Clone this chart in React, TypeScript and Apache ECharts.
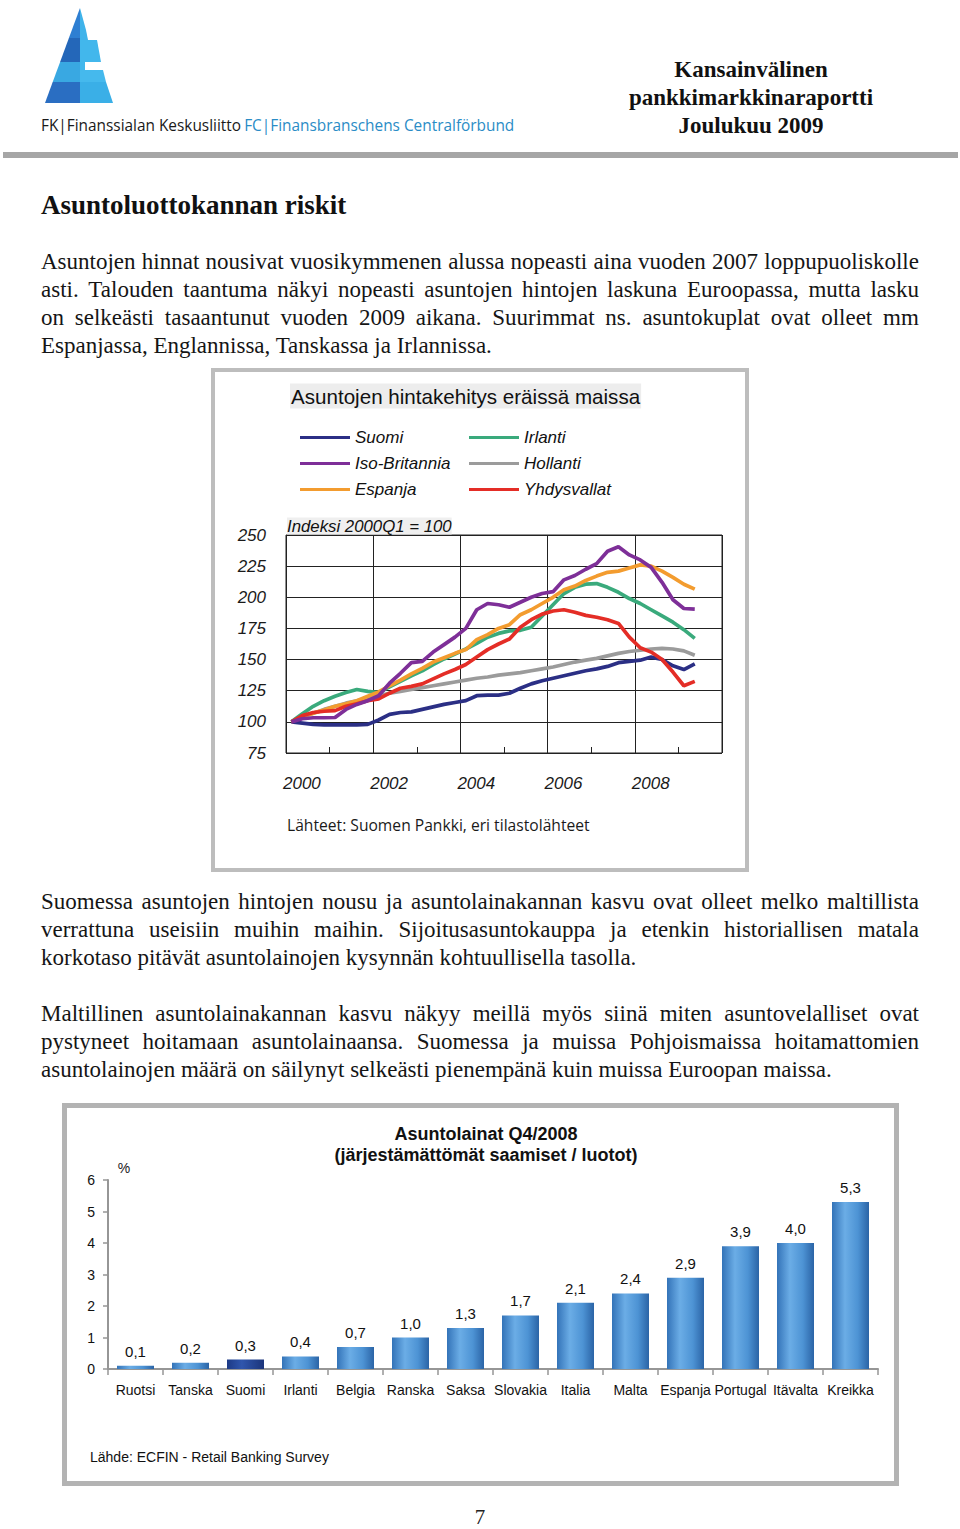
import React, { useEffect, useRef } from "react";
import * as echarts from "echarts";

// ---------- line chart data (index 2000Q1 = 100) ----------
const quarters: string[] = [];
for (let y = 2000; y <= 2009; y++) for (let q = 1; q <= 4; q++) quarters.push(`${y}Q${q}`);

const seriesColors: Record<string, string> = {
  Suomi: "#2b2f85",
  Irlanti: "#3aaa7c",
  "Iso-Britannia": "#7e2f98",
  Hollanti: "#9b9b9b",
  Espanja: "#f39c2f",
  Yhdysvallat: "#e42d26",
};
const suomi = [100, 99, 98, 97.5, 97.5, 97.5, 97.5, 98, 101.5, 106, 107.5, 108, 110, 112, 114, 115.5, 117, 121, 121.5, 121.5, 123, 127, 130.5, 133, 135, 137, 139, 141, 142.5, 144.5, 147.5, 148.5, 149.5, 152, 150, 145, 142, 146.5];
const isoBritannia = [100, 102.5, 103.3, 103.3, 103.5, 110, 114, 117, 121, 131, 139, 147.5, 148.5, 156, 162, 168, 175, 190, 195, 194, 192, 196, 200, 203, 204.5, 214, 217.5, 222.5, 227, 237, 240.5, 234, 230, 224, 212, 198, 191, 190.5];
const espanja = [100, 104, 107, 109.5, 112.5, 114.5, 117, 120.5, 124, 129, 133.5, 138.5, 143, 148, 151.5, 155, 158, 166, 170, 175, 178, 186, 190, 195, 200, 206, 209, 213.5, 217, 220, 221, 223.5, 226, 225, 221, 216, 210.5, 206.5];
const irlanti = [100, 106.5, 112.5, 117, 120.5, 123.5, 126, 124.5, 123.5, 128, 132.5, 137, 141, 146, 150.5, 154.5, 158.5, 163, 168, 171, 173, 173.5, 176, 185, 194, 203, 208, 210.5, 211, 208, 204, 199, 195, 190, 185, 180, 174, 167];
const hollanti = [100, 104, 107, 110, 112.5, 115, 117, 119, 121, 123, 124.5, 126, 127.5, 129, 130.5, 132, 133.5, 135, 136, 137.5, 138.5, 139.5, 141, 142.5, 144, 146, 148, 149.5, 151, 153, 155, 156.5, 157.5, 158.5, 159, 158.5, 157, 153.5];
const yhdysvallat = [100, 105, 107.5, 108.5, 109, 112.5, 114.5, 117, 118.5, 123, 127, 128.5, 130.5, 134.5, 138.5, 142, 146, 152, 158, 162.5, 166.5, 176, 182, 186.5, 189, 190, 188, 185.5, 184, 182, 179, 168, 159.5, 156, 150, 140, 129, 132.5];
const drawOrder: [string, number[]][] = [
  ["Hollanti", hollanti],
  ["Suomi", suomi],
  ["Irlanti", irlanti],
  ["Espanja", espanja],
  ["Yhdysvallat", yhdysvallat],
  ["Iso-Britannia", isoBritannia],
];
const yearTicks = [2000, 2002, 2004, 2006, 2008];

// ---------- bar chart data ----------
const countries = ["Ruotsi", "Tanska", "Suomi", "Irlanti", "Belgia", "Ranska", "Saksa", "Slovakia", "Italia", "Malta", "Espanja", "Portugal", "Itävalta", "Kreikka"];
const loanValues = [0.1, 0.2, 0.3, 0.4, 0.7, 1.0, 1.3, 1.7, 2.1, 2.4, 2.9, 3.9, 4.0, 5.3];
const highlighted = "Suomi";

// ---------- page text ----------
const para1 = [
  "Asuntojen hinnat nousivat vuosikymmenen alussa nopeasti aina vuoden 2007 loppupuoliskolle",
  "asti. Talouden taantuma näkyi nopeasti asuntojen hintojen laskuna Euroopassa, mutta lasku",
  "on selkeästi tasaantunut vuoden 2009 aikana. Suurimmat ns. asuntokuplat ovat olleet mm",
  "Espanjassa, Englannissa, Tanskassa ja Irlannissa.",
];
const para2 = [
  "Suomessa asuntojen hintojen nousu ja asuntolainakannan kasvu ovat olleet melko maltillista",
  "verrattuna useisiin muihin maihin. Sijoitusasuntokauppa ja etenkin historiallisen matala",
  "korkotaso pitävät asuntolainojen kysynnän kohtuullisella tasolla.",
];
const para3 = [
  "Maltillinen asuntolainakannan kasvu näkyy meillä myös siinä miten asuntovelalliset ovat",
  "pystyneet hoitamaan asuntolainaansa. Suomessa ja muissa Pohjoismaissa hoitamattomien",
  "asuntolainojen määrä on säilynyt selkeästi pienempänä kuin muissa Euroopan maissa.",
];

const SANS = "'Liberation Sans', Arial, sans-serif";
const SERIF = "'Liberation Serif', 'Times New Roman', serif";

function Paragraph({ lines, top }: { lines: string[]; top: number }) {
  return (
    <div style={{ position: "absolute", left: 41, top, width: 878, fontFamily: SERIF, fontSize: 23, color: "#151515" }}>
      {lines.map((line, i) => {
        const last = i === lines.length - 1;
        if (last) {
          return (
            <div key={i} style={{ height: 28, lineHeight: "28px", whiteSpace: "nowrap" }}>
              {line}
            </div>
          );
        }
        const words = line.split(" ");
        return (
          <div key={i} style={{ height: 28, lineHeight: "28px", display: "flex", justifyContent: "space-between", whiteSpace: "nowrap" }}>
            {words.map((w, j) => (
              <span key={j}>{j < words.length - 1 ? w + " " : w}</span>
            ))}
          </div>
        );
      })}
    </div>
  );
}

export default function App() {
  const ref = useRef<HTMLDivElement>(null);

  useEffect(() => {
    if (!ref.current) return;
    const chart = echarts.init(ref.current, undefined, { renderer: "svg" });

    const barGrad = new echarts.graphic.LinearGradient(0, 0, 1, 0, [
      { offset: 0, color: "#3373b8" },
      { offset: 0.35, color: "#6badE6" },
      { offset: 0.7, color: "#4d93d4" },
      { offset: 1, color: "#2b64a6" },
    ]);
    const darkGrad = new echarts.graphic.LinearGradient(0, 0, 1, 0, [
      { offset: 0, color: "#1d3a86" },
      { offset: 0.4, color: "#2f56ad" },
      { offset: 1, color: "#1b347a" },
    ]);

    const legendCommon = {
      orient: "vertical" as const,
      top: 424,
      itemWidth: 50,
      itemHeight: 3,
      itemGap: 9,
      icon: "rect",
      selectedMode: false,
      textStyle: { fontSize: 17, fontStyle: "italic" as const, color: "#111", fontFamily: SANS, lineHeight: 17 },
    };

    const logoPolys: [number[][], string][] = [
      [[[80, 8], [80, 38], [68.9, 38]], "#2e7fd2"],
      [[[80, 38], [80, 62], [60.1, 62], [68.9, 38]], "#2467b9"],
      [[[80, 62], [80, 82], [52.7, 82], [60.1, 62]], "#39a8e2"],
      [[[80, 82], [80, 103], [45, 103], [52.7, 82]], "#2a6ec2"],
      [[[80, 8], [86, 30], [88, 40], [80, 40]], "#3fb3ea"],
      [[[80, 40], [97, 40], [101, 62], [80, 62]], "#42b7ec"],
      [[[80, 62], [85, 62], [85, 70], [80, 70]], "#42b7ec"],
      [[[80, 70], [103, 70], [106, 82], [80, 82]], "#45b9ed"],
      [[[80, 82], [106, 82], [113, 103], [80, 103]], "#3aafe7"],
    ];

    const graphic: any[] = [
      ...logoPolys.map(([pts, color]) => ({ type: "polygon", shape: { points: pts }, style: { fill: color } })),
      {
        type: "text", x: 41, y: 125, scaleX: 0.905,
        style: {
          text: "{a|FK|Finanssialan Keskusliitto} {b|FC|Finansbranschens Centralförbund}",
          verticalAlign: "middle",
          rich: {
            a: { fontFamily: "'Open Sans', sans-serif", fontSize: 17, fill: "#1a1a1a" },
            b: { fontFamily: "'Open Sans', sans-serif", fontSize: 17, fill: "#2a8cc6" },
          },
        },
      },
      ...["Kansainvälinen", "pankkimarkkinaraportti", "Joulukuu 2009"].map((t, i) => ({
        type: "text", x: 751, y: 69 + i * 28,
        style: { text: t, fontFamily: SERIF, fontWeight: "bold", fontSize: 23, fill: "#111", align: "center", verticalAlign: "middle" },
      })),
      { type: "rect", shape: { x: 3, y: 152, width: 955, height: 6 }, style: { fill: "#a6a6a6" } },
      {
        type: "text", x: 41, y: 205,
        style: { text: "Asuntoluottokannan riskit", fontFamily: SERIF, fontWeight: "bold", fontSize: 27, fill: "#111", verticalAlign: "middle" },
      },
      // line chart frame
      { type: "rect", shape: { x: 213, y: 370, width: 534, height: 500 }, style: { fill: "none", stroke: "#bdbdbd", lineWidth: 4 } },
      {
        type: "text", x: 290, y: 396,
        style: { text: "Asuntojen hintakehitys eräissä maissa", fontFamily: SANS, fontSize: 20.6, fill: "#111", verticalAlign: "middle", backgroundColor: "#ededed", padding: [2, 1] },
      },
      {
        type: "text", x: 287, y: 526,
        style: { text: "Indeksi 2000Q1 = 100", fontFamily: SANS, fontSize: 16.8, fontStyle: "italic", fill: "#111", verticalAlign: "middle", backgroundColor: "#efefef" },
      },
      {
        type: "text", x: 287, y: 825, scaleX: 0.92,
        style: { text: "Lähteet: Suomen Pankki, eri tilastolähteet", fontFamily: "'Open Sans', sans-serif", fontSize: 17, fill: "#1a1a1a", verticalAlign: "middle" },
      },
      // bar chart frame
      { type: "rect", shape: { x: 64.5, y: 1105.5, width: 832, height: 378 }, style: { fill: "none", stroke: "#b3b3b3", lineWidth: 5 } },
      {
        type: "text", x: 486, y: 1134,
        style: { text: "Asuntolainat Q4/2008", fontFamily: SANS, fontWeight: "bold", fontSize: 18, fill: "#111", align: "center", verticalAlign: "middle" },
      },
      {
        type: "text", x: 486, y: 1155,
        style: { text: "(järjestämättömät saamiset / luotot)", fontFamily: SANS, fontWeight: "bold", fontSize: 18, fill: "#111", align: "center", verticalAlign: "middle" },
      },
      { type: "text", x: 124, y: 1168, style: { text: "%", fontFamily: SANS, fontSize: 14, fill: "#222", align: "center", verticalAlign: "middle" } },
      { type: "text", x: 90, y: 1457, style: { text: "Lähde: ECFIN - Retail Banking Survey", fontFamily: SANS, fontSize: 14, fill: "#111", verticalAlign: "middle" } },
      { type: "text", x: 480, y: 1517, style: { text: "7", fontFamily: SERIF, fontSize: 21, fill: "#222", align: "center", verticalAlign: "middle" } },
    ];

    chart.setOption({
      animation: false,
      backgroundColor: "#ffffff",
      textStyle: { fontFamily: SANS },
      graphic,
      legend: [
        { ...legendCommon, left: 295, data: ["Suomi", "Iso-Britannia", "Espanja"] },
        { ...legendCommon, left: 464, data: ["Irlanti", "Hollanti", "Yhdysvallat"] },
      ],
      grid: [
        { left: 286, top: 535, width: 436, height: 218, show: true, borderColor: "#222", borderWidth: 1, backgroundColor: "transparent" },
        { left: 108, top: 1180, width: 770, height: 189 },
      ],
      xAxis: [
        { type: "category", gridIndex: 0, data: quarters, boundaryGap: true, position: "top", show: false },
        {
          type: "value", gridIndex: 0, min: 2000, max: 2010, interval: 2, position: "bottom",
          axisLine: { show: false },
          axisTick: { show: false, inside: true },
          minorTick: { show: true, splitNumber: 2, length: 6, lineStyle: { color: "#222", width: 1 } },
          splitLine: { show: true, lineStyle: { color: "#222", width: 1 } },
          axisLabel: {
            formatter: (v: number) => (yearTicks.includes(v) ? String(v) : ""),
            align: "left", margin: 22, fontSize: 17, fontStyle: "italic", color: "#1a1a1a", fontFamily: SANS,
            padding: [0, 0, 0, -3],
          },
        },
        {
          type: "category", gridIndex: 1, data: countries,
          axisLine: { lineStyle: { color: "#969696", width: 2 } },
          axisTick: { show: true, length: 6, lineStyle: { color: "#969696", width: 1.5 } },
          axisLabel: { interval: 0, margin: 14, fontSize: 14, color: "#111", fontFamily: SANS },
        },
      ],
      yAxis: [
        {
          type: "value", gridIndex: 0, min: 75, max: 250, interval: 25,
          axisLine: { show: false }, axisTick: { show: false },
          splitLine: { lineStyle: { color: "#222", width: 1 } },
          axisLabel: { margin: 20, fontSize: 17, fontStyle: "italic", color: "#1a1a1a", fontFamily: SANS },
        },
        {
          type: "value", gridIndex: 1, min: 0, max: 6, interval: 1,
          axisLine: { show: true, lineStyle: { color: "#969696", width: 2 } },
          axisTick: { show: true, length: 5, lineStyle: { color: "#969696", width: 1.5 } },
          splitLine: { lineStyle: { color: "#8e8e8e", width: 2, shadowColor: "rgba(0,0,0,0.25)", shadowBlur: 2, shadowOffsetY: 1 } },
          axisLabel: { margin: 13, fontSize: 14, color: "#111", fontFamily: SANS },
        },
      ],
      series: [
        ...drawOrder.map(([name, values]) => ({
          name,
          type: "line",
          xAxisIndex: 0,
          yAxisIndex: 0,
          data: values,
          showSymbol: false,
          symbol: "none",
          color: seriesColors[name],
          lineStyle: { width: 3.7, color: seriesColors[name] },
          z: 3,
        })),
        {
          name: "Asuntolainat",
          type: "bar",
          xAxisIndex: 2,
          yAxisIndex: 1,
          barWidth: 37,
          data: loanValues.map((v, i) => (countries[i] === highlighted ? { value: v, itemStyle: { color: darkGrad } } : v)),
          itemStyle: { color: barGrad },
          label: {
            show: true, position: "top", distance: 7, fontSize: 15, color: "#111", fontFamily: SANS,
            formatter: (p: any) => Number(p.value).toFixed(1).replace(".", ","),
          },
        },
      ],
    });

    return () => chart.dispose();
  }, []);

  return (
    <div style={{ position: "absolute", left: 0, top: 0, width: 960, height: 1529, background: "#fff", overflow: "hidden" }}>
      <div ref={ref} style={{ position: "absolute", left: 0, top: 0, width: 960, height: 1529 }} />
      <Paragraph lines={para1} top={248} />
      <Paragraph lines={para2} top={888} />
      <Paragraph lines={para3} top={1000} />
    </div>
  );
}
